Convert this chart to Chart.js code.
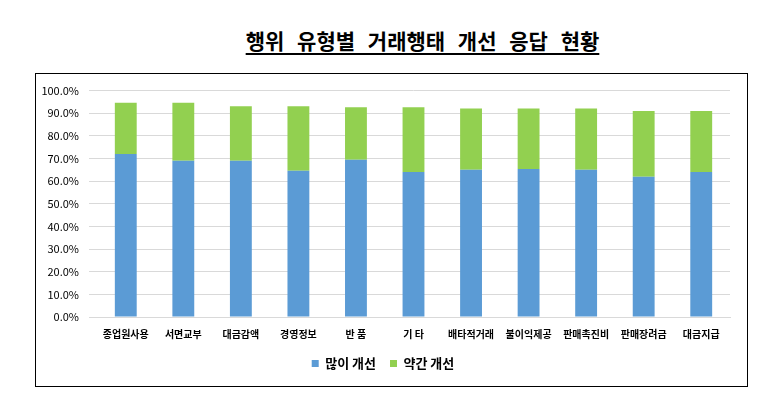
<!DOCTYPE html>
<html>
<head>
<meta charset="utf-8">
<script src="https://cdn.jsdelivr.net/npm/chart.js@4"></script>
<style>
  body { margin: 0; background: #fff; width: 782px; height: 417px; position: relative; font-family: "Noto Sans CJK KR", sans-serif; }
  #title { position: absolute; left: 0; width: 845px; top: 25px; text-align: center; font-size: 21px; font-weight: bold; word-spacing: 8px; }
  #title span { text-decoration: underline; text-underline-offset: 4px; }
  #box { position: absolute; left: 35px; top: 73px; width: 711px; height: 312px; border: 1px solid #000; }
</style>
</head>
<body>
<div id="title"><span>행위 유형별 거래행태 개선 응답 현황</span></div>
<div id="box"><canvas id="grafico" width="711" height="312"></canvas></div>
<script>
// 응답 비율 (%)
let categorias = ["종업원사용", "서면교부", "대금감액", "경영정보", "반 품", "기 타", "배타적거래", "불이익제공", "판매촉진비", "판매장려금", "대금지급"];
let muitoMelhor = [72.0, 69.0, 69.0, 64.6, 69.5, 64.0, 65.0, 65.4, 65.0, 61.9, 64.1];
let poucoMelhor = [22.6, 25.6, 24.1, 28.5, 23.2, 28.7, 27.1, 26.7, 27.1, 29.1, 26.9];
let yTicks = [0, 10, 20, 30, 40, 50, 60, 70, 80, 90, 100];

new Chart("grafico", {
  type: "bar",
  data: {
    labels: categorias,
    datasets: [
      { label: "많이 개선", data: muitoMelhor, backgroundColor: "#5b9bd5", barPercentage: 0.38, categoryPercentage: 1 },
      { label: "약간 개선", data: poucoMelhor, backgroundColor: "#92d050", barPercentage: 0.38, categoryPercentage: 1 }
    ]
  },
  options: {
    responsive: false,
    animation: false,
    layout: { padding: { top: 4, right: 17, left: 0, bottom: 6 } },
    plugins: {
      legend: {
        position: "bottom",
        labels: {
          boxWidth: 7, boxHeight: 7, padding: 14, color: "#000",
          font: { family: "Noto Sans CJK KR", size: 13, weight: "bold" }
        }
      },
      tooltip: { enabled: false }
    },
    scales: {
      x: {
        stacked: true,
        grid: { display: false },
        border: { color: "#d9d9d9" },
        ticks: { color: "#000", maxRotation: 0, autoSkip: false, font: { family: "Noto Sans CJK KR", size: 10, weight: "bold" } }
      },
      y: {
        stacked: true,
        min: 0, max: 100,
        afterBuildTicks: (s) => { s.ticks = yTicks.map(v => ({ value: v })); },
        afterFit: (s) => { s.width = 61; },
        grid: { color: "#d9d9d9" },
        border: { display: false },
        ticks: { color: "#000", padding: 10, font: { family: "Noto Sans CJK KR", size: 11 }, callback: (v) => v.toFixed(1) + "%" }
      }
    }
  }
});
</script>
</body>
</html>
